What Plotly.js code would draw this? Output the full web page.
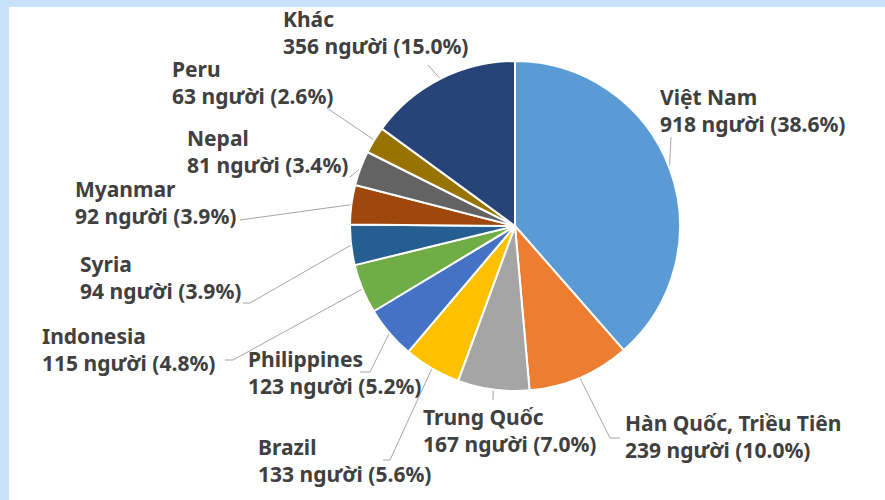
<!DOCTYPE html>
<html>
<head>
<meta charset="utf-8">
<script src="https://cdn.plot.ly/plotly-3.0.1.min.js"></script>
<style>html,body{margin:0;padding:0;background:#fff;}#chart{width:885px;height:500px;}</style>
</head>
<body>
<div id="chart"></div>
<script>
// ---- data ----
const countries = ["Việt Nam","Hàn Quốc, Triều Tiên","Trung Quốc","Brazil","Philippines","Indonesia","Syria","Myanmar","Nepal","Peru","Khác"];
const people = [918,239,167,133,123,115,94,92,81,63,356];
const unitWord = "người";

// ---- style ----
const sliceColors = ["#5B9BD5","#ED7D31","#A5A5A5","#FFC000","#4472C4","#70AD47","#255E91","#9E480E","#636363","#997300","#264478"];
const W = 885, H = 500;
const CX = 515, CY = 226, R = 165;           // pie centre / radius in pixels
// label text positions (left x, top y) in pixels
const labelPos = [[658,81],[623,407],[421,401],[256,431],[246,343],[40,320],[78,248],[73,173],[185,122],[170,53],[281,3]];
// leader-line label-side points in pixels
const leaderEnds = [
  [[671,137]],
  [[610,438],[620,438]],
  [[493,400]],
  [[390,460],[383,460]],
  [[370,372],[360,372]],
  [[233,360],[225,360]],
  [[250,303],[243,303]],
  [[240,220]],
  [[350,177]],
  [[327,108]],
  [[428,65]]
];

const total = people.reduce((a,b)=>a+b,0);
const texts = countries.map((c,i)=> c + "<br>" + people[i] + " " + unitWord + " (" + (people[i]/total*100).toFixed(1) + "%)");

// slice mid-angle edge points (from data)
let cum = 0;
const edgePts = people.map(v=>{
  const mid = (cum + v/2)/total; cum += v;
  const a = mid*2*Math.PI;
  return [CX + R*Math.sin(a), CY - R*Math.cos(a)];
});

const lx = [], ly = [];
edgePts.forEach((p,i)=>{
  lx.push(p[0]); ly.push(p[1]);
  leaderEnds[i].forEach(q=>{lx.push(q[0]); ly.push(q[1]);});
  lx.push(null); ly.push(null);
});

const pie = {
  type:"pie", values: people, labels: countries, sort:false, direction:"clockwise", rotation:0,
  textinfo:"none", hoverinfo:"skip", showlegend:false,
  marker:{colors:sliceColors, line:{color:"#FFFFFF", width:2}},
  domain:{x:[(CX-R)/W,(CX+R)/W], y:[(H-CY-R)/H,(H-CY+R)/H]}
};
const leaders = {
  type:"scatter", mode:"lines", x:lx, y:ly, hoverinfo:"skip", showlegend:false,
  line:{color:"#A6A6A6", width:1}
};

const annotations = texts.map((t,i)=>({
  x: labelPos[i][0], y: labelPos[i][1], xref:"x", yref:"y",
  xanchor:"left", yanchor:"top", align:"left", showarrow:false,
  text: t, font:{family:"'Noto Sans', 'Open Sans', sans-serif", size:21, color:"#404040", weight:700}
}));

const layout = {
  width: W, height: H, margin:{l:0,r:0,t:0,b:0},
  paper_bgcolor:"#FFFFFF", plot_bgcolor:"rgba(0,0,0,0)",
  xaxis:{range:[0,W], visible:false, fixedrange:true, domain:[0,1]},
  yaxis:{range:[H,0], visible:false, fixedrange:true, domain:[0,1]},
  shapes:[
    {type:"rect", xref:"paper", yref:"paper", x0:0, x1:1, y0:1-7/H, y1:1, fillcolor:"#C9E1FA", line:{width:0}, layer:"below"},
    {type:"rect", xref:"paper", yref:"paper", x0:0, x1:9/W, y0:0, y1:1, fillcolor:"#C9E1FA", line:{width:0}, layer:"below"}
  ],
  annotations: annotations
};

Plotly.newPlot("chart", [leaders, pie], layout, {displayModeBar:false, staticPlot:true});
</script>
</body>
</html>
